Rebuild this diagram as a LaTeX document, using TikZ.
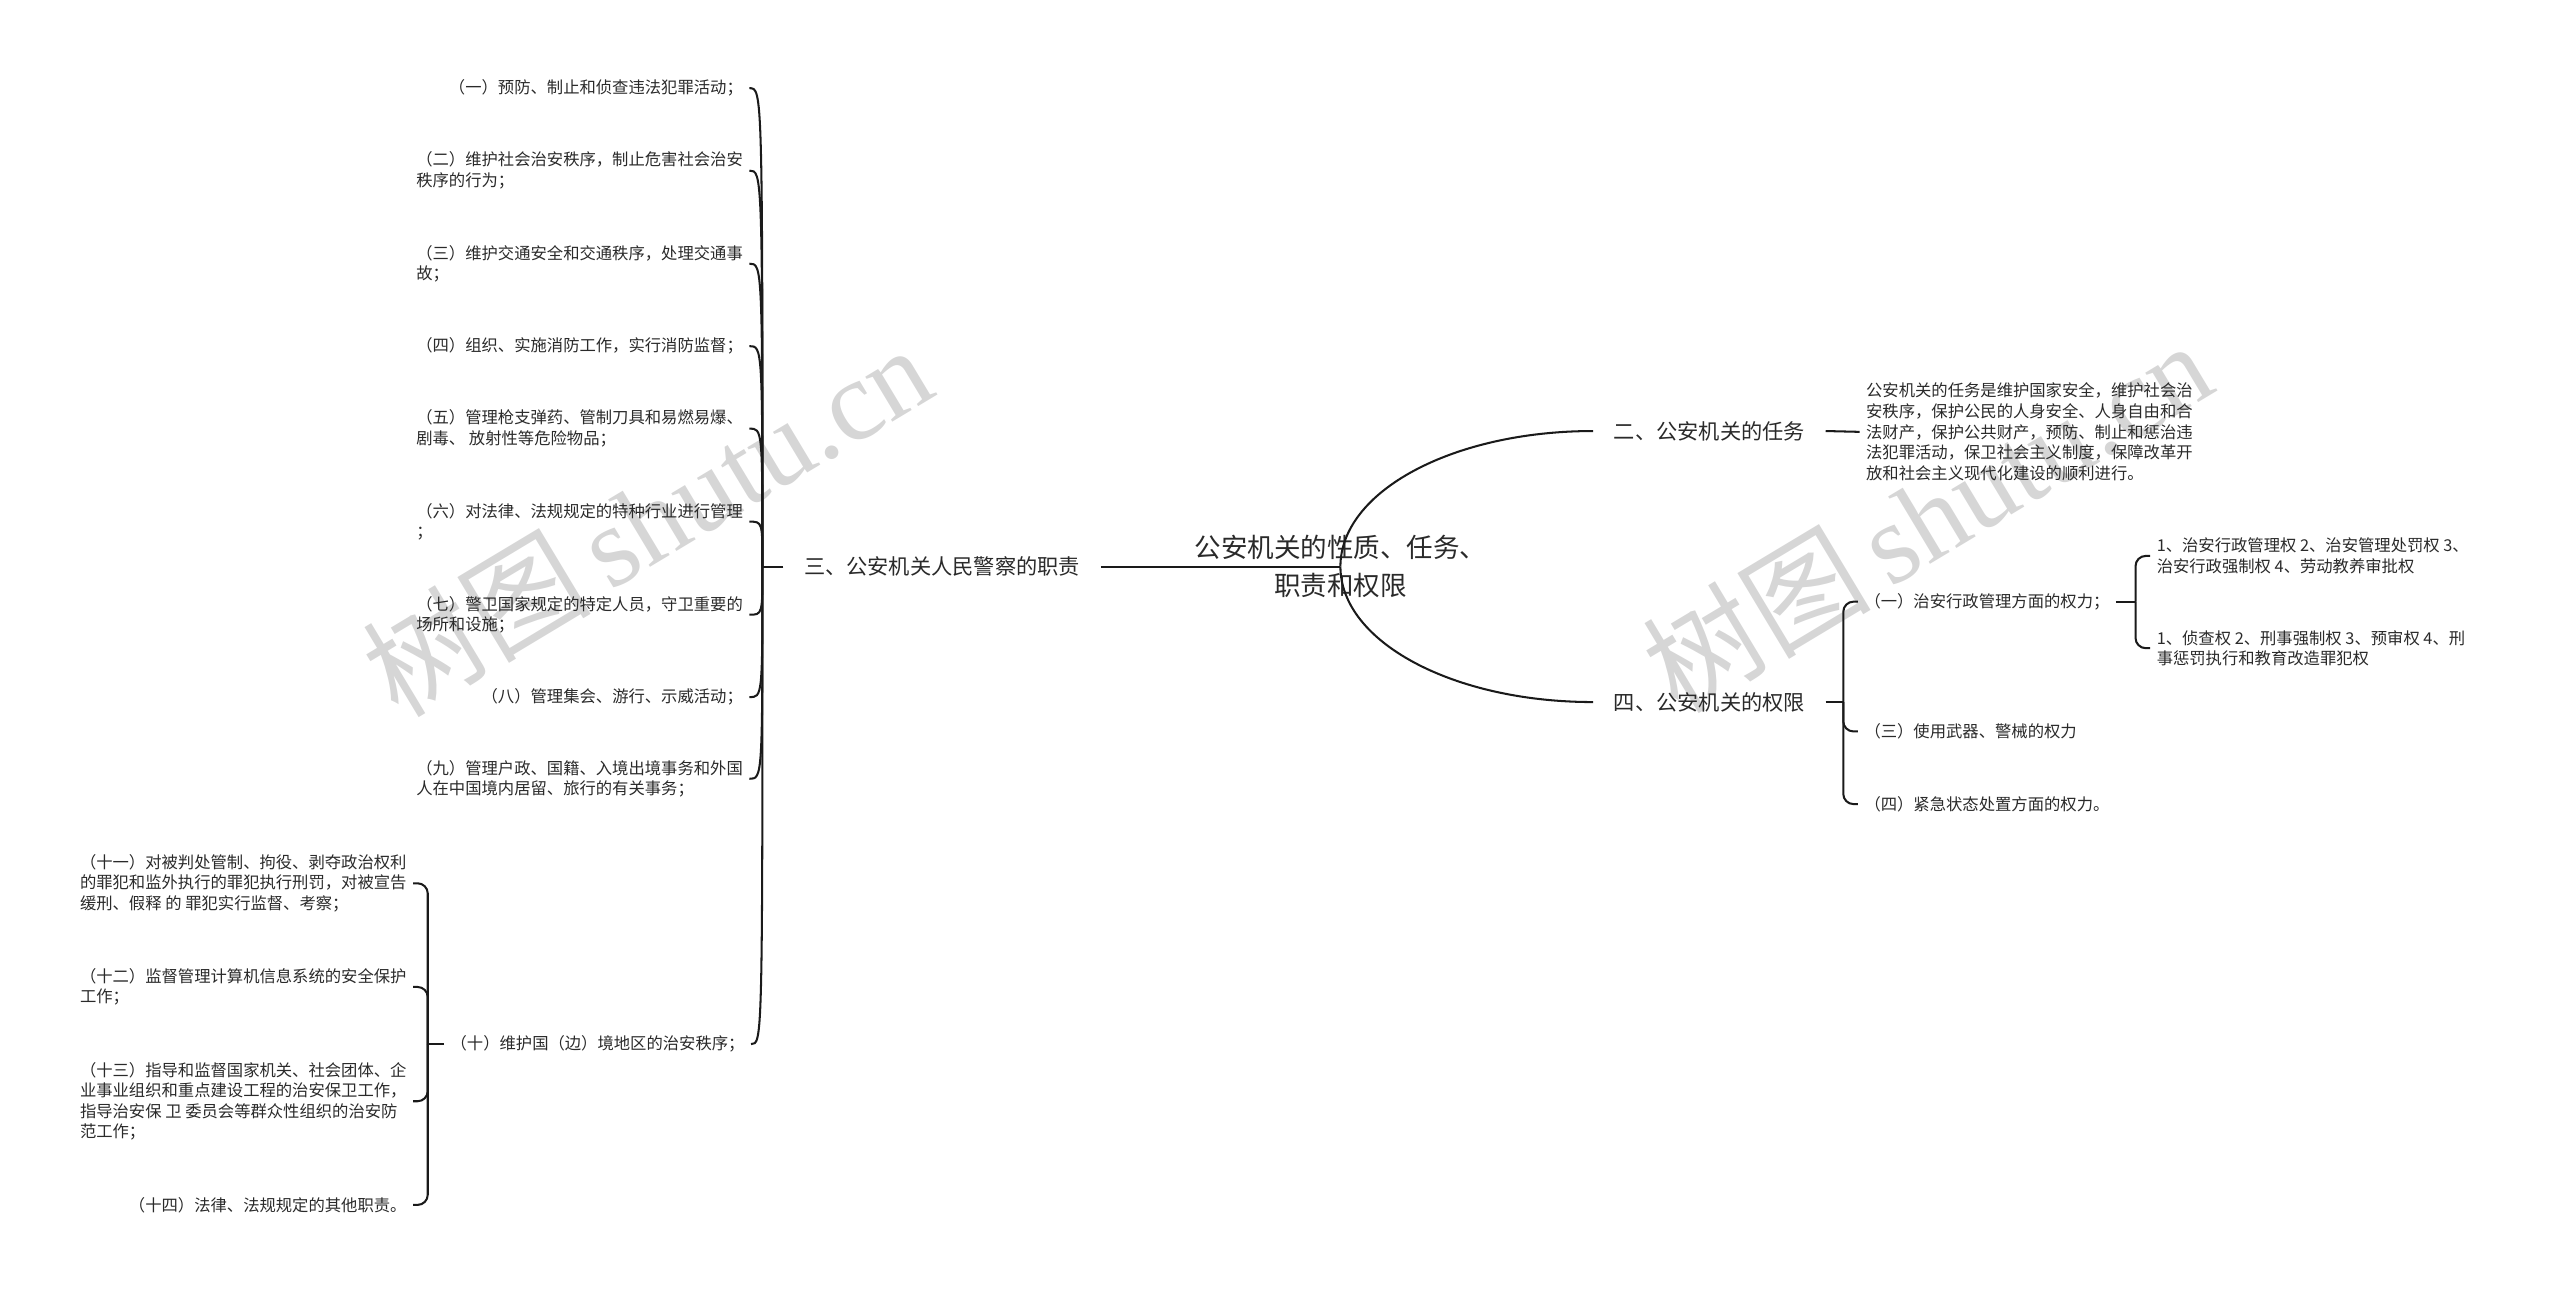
\documentclass[tikz,border=0pt]{standalone}
\usepackage{fontspec}
\setmainfont{Noto Sans CJK SC}
\newfontfamily\wmserif{Liberation Serif}
\newfontfamily\wmcjk{Noto Sans CJK SC}
\definecolor{txt}{HTML}{2A2A2A}
\definecolor{wm}{HTML}{D6D6D6}
\definecolor{ln}{HTML}{1A1A1A}
\begin{document}
\begin{tikzpicture}[x=0.8pt,y=-0.8pt,
  small/.style={font=\fontsize{8pt}{10.1pt}\selectfont, text=txt, align=left, inner xsep=3pt, inner ysep=0pt},
  branch/.style={font=\fontsize{10.4pt}{13pt}\selectfont, text=txt, inner xsep=10pt, inner ysep=0pt},
  rootnode/.style={font=\fontsize{13pt}{18.4pt}\selectfont, text=txt, align=center, inner sep=0pt},
  wmark/.style={rotate=31, text=wm, font=\fontsize{56pt}{56pt}\selectfont, inner sep=0pt},
  link/.style={draw=ln, line width=1pt},
  rlink/.style={link, rounded corners=5pt}
]
\useasboundingbox (0,0) rectangle (1568,792);

% watermarks
\node[wmark] (wmL) at (396,318) {\wmcjk 树图\,\wmserif shutu.cn};
\node[wmark] (wmR) at (1180,316) {\wmcjk 树图\,\wmserif shutu.cn};

% root and branches
\node[rootnode] (root) at (821,347) {公安机关的性质、任务、\\职责和权限};
\node[branch] (b3) at (577,347) {三、公安机关人民警察的职责};
\node[branch] (b2) at (1047,264) {二、公安机关的任务};
\node[branch] (b4) at (1047,430) {四、公安机关的权限};

\draw[link] (b3.east) -- (root.center);
\draw[link] (root.center) .. controls +(0,-46) and +(-86,0) .. (b2.west);
\draw[link] (root.center) .. controls +(0,46) and +(-86,0) .. (b4.west);

% left group
\coordinate (J3) at (467,347);
\node[small, anchor=east] (c1) at (459,54) {（一）预防、制止和侦查违法犯罪活动；};
\node[small, anchor=east] (c2) at (459,104.5) {（二）维护社会治安秩序，制止危害社会治安\\秩序的行为；};
\node[small, anchor=east] (c3) at (459,161.5) {（三）维护交通安全和交通秩序，处理交通事\\故；};
\node[small, anchor=east] (c4) at (459,212) {（四）组织、实施消防工作，实行消防监督；};
\node[small, anchor=east] (c5) at (459,262.5) {（五）管理枪支弹药、管制刀具和易燃易爆、\\剧毒、 放射性等危险物品；};
\node[small, anchor=east] (c6) at (459,319.5) {（六）对法律、法规规定的特种行业进行管理\\；};
\node[small, anchor=east] (c7) at (459,376.5) {（七）警卫国家规定的特定人员，守卫重要的\\场所和设施；};
\node[small, anchor=east] (c8) at (459,427) {（八）管理集会、游行、示威活动；};
\node[small, anchor=east] (c9) at (459,477) {（九）管理户政、国籍、入境出境事务和外国\\人在中国境内居留、旅行的有关事务；};
\node[small, anchor=west] (c10) at (272,639.5) {（十）维护国（边）境地区的治安秩序；};

\draw[link] (b3.west) -- (J3);
\foreach \c in {c1,c2,c3,c4,c5,c6,c7,c8,c9,c10}
  \draw[link] (J3) .. controls (J3 |- \c.east) .. (\c.east);

% (十) children
\coordinate (J10) at (262,639.5);
\node[small, anchor=east] (c11) at (253,541) {（十一）对被判处管制、拘役、剥夺政治权利\\的罪犯和监外执行的罪犯执行刑罚，对被宣告\\缓刑、假释 的 罪犯实行监督、考察；};
\node[small, anchor=east] (c12) at (253,604.5) {（十二）监督管理计算机信息系统的安全保护\\工作；};
\node[small, anchor=east] (c13) at (253,674.5) {（十三）指导和监督国家机关、社会团体、企\\业事业组织和重点建设工程的治安保卫工作，\\指导治安保 卫 委员会等群众性组织的治安防\\范工作；};
\node[small, anchor=east] (c14) at (253,738) {（十四）法律、法规规定的其他职责。};
\draw[link] (c10.west) -- (J10);
\foreach \c in {c11,c12,c13,c14}
  \draw[rlink] (J10) |- (\c.east);

% right: tasks
\node[small, anchor=west] (d2) at (1139,264.5) {公安机关的任务是维护国家安全，维护社会治\\安秩序，保护公民的人身安全、人身自由和合\\法财产，保护公共财产，预防、制止和惩治违\\法犯罪活动，保卫社会主义制度，保障改革开\\放和社会主义现代化建设的顺利进行。};
\draw[link] (b2.east) -- (d2.west);

% right: powers
\coordinate (J4) at (1129,430);
\node[small, anchor=west] (p1) at (1138,368.5) {（一）治安行政管理方面的权力；};
\node[small, anchor=west] (p3) at (1138,448) {（三）使用武器、警械的权力};
\node[small, anchor=west] (p4) at (1138,492.5) {（四）紧急状态处置方面的权力。};
\draw[link] (b4.east) -- (J4);
\foreach \c in {p1,p3,p4}
  \draw[rlink] (J4) |- (\c.west);

\coordinate (J5) at (1308,368.5);
\node[small, anchor=west] (q1) at (1317,340.5) {1、治安行政管理权 2、治安管理处罚权 3、\\治安行政强制权 4、劳动教养审批权};
\node[small, anchor=west] (q2) at (1317,397) {1、侦查权 2、刑事强制权 3、预审权 4、刑\\事惩罚执行和教育改造罪犯权};
\draw[link] (p1.east) -- (J5);
\foreach \c in {q1,q2}
  \draw[rlink] (J5) |- (\c.west);
\end{tikzpicture}
\end{document}
